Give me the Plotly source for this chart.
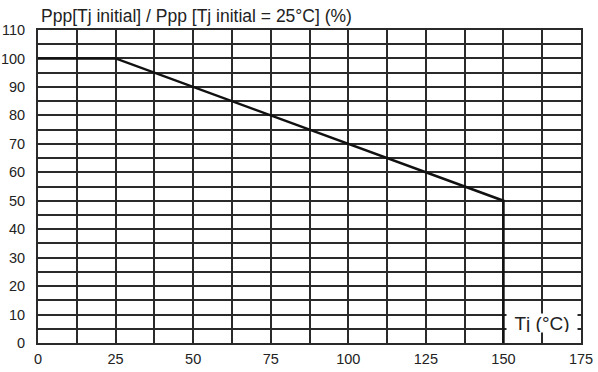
import plotly.graph_objects as go

# Data: derating curve
tj = [0, 25, 150, 150]
ppp_pct = [100, 100, 50, 0]

x_ticks = [0, 25, 50, 75, 100, 125, 150, 175]
y_ticks = [0, 10, 20, 30, 40, 50, 60, 70, 80, 90, 100, 110]

title_text = "Ppp[Tj initial] / Ppp [Tj initial = 25°C] (%)"
x_label = "Tj (°C)"

grid_col = "#2a2a2a"
fam = "Liberation Sans, Arial, sans-serif"
font = dict(family=fam, size=14.5, color="#222")

fig = go.Figure()
fig.add_trace(go.Scatter(x=tj, y=ppp_pct, mode="lines",
                         line=dict(color="#111", width=2.5), showlegend=False,
                         hoverinfo="skip"))

fig.add_annotation(x=162.4, y=7.1, xref="x", yref="y", text=x_label,
                   showarrow=False, bgcolor="white", width=70, height=18, borderpad=0,
                   font=dict(family=fam, size=19, color="#222"))

fig.add_annotation(x=0, y=1, xref="paper", yref="paper", xanchor="left", yanchor="bottom",
                   xshift=1, yshift=2, text=title_text, showarrow=False,
                   font=dict(family=fam, size=17.5, color="#222"))

fig.update_layout(
    width=598, height=372,
    margin=dict(l=38, r=17, t=30, b=29, autoexpand=False),
    paper_bgcolor="white", plot_bgcolor="white",
    font=font,
)
fig.update_xaxes(range=[0, 175], tickvals=x_ticks, showgrid=True, gridcolor=grid_col, gridwidth=1.5,
                 minor=dict(tickvals=[12.5 + 25 * i for i in range(7)], showgrid=True,
                            gridcolor=grid_col, gridwidth=1.5),
                 zeroline=False, showline=True, linecolor=grid_col, linewidth=2, mirror=True,
                 ticks="", ticklabelstandoff=2, automargin=False)
fig.update_yaxes(range=[0, 110], tickvals=y_ticks, showgrid=True, gridcolor=grid_col, gridwidth=1.5,
                 minor=dict(tickvals=[5 + 10 * i for i in range(11)], showgrid=True,
                            gridcolor=grid_col, gridwidth=1.5),
                 zeroline=False, showline=True, linecolor=grid_col, linewidth=2, mirror=True,
                 ticks="", ticklabelstandoff=8, automargin=False)

fig.write_html("out.html", config={"displayModeBar": False},
               post_script="document.body.style.margin='0';document.body.style.overflow='hidden';")
